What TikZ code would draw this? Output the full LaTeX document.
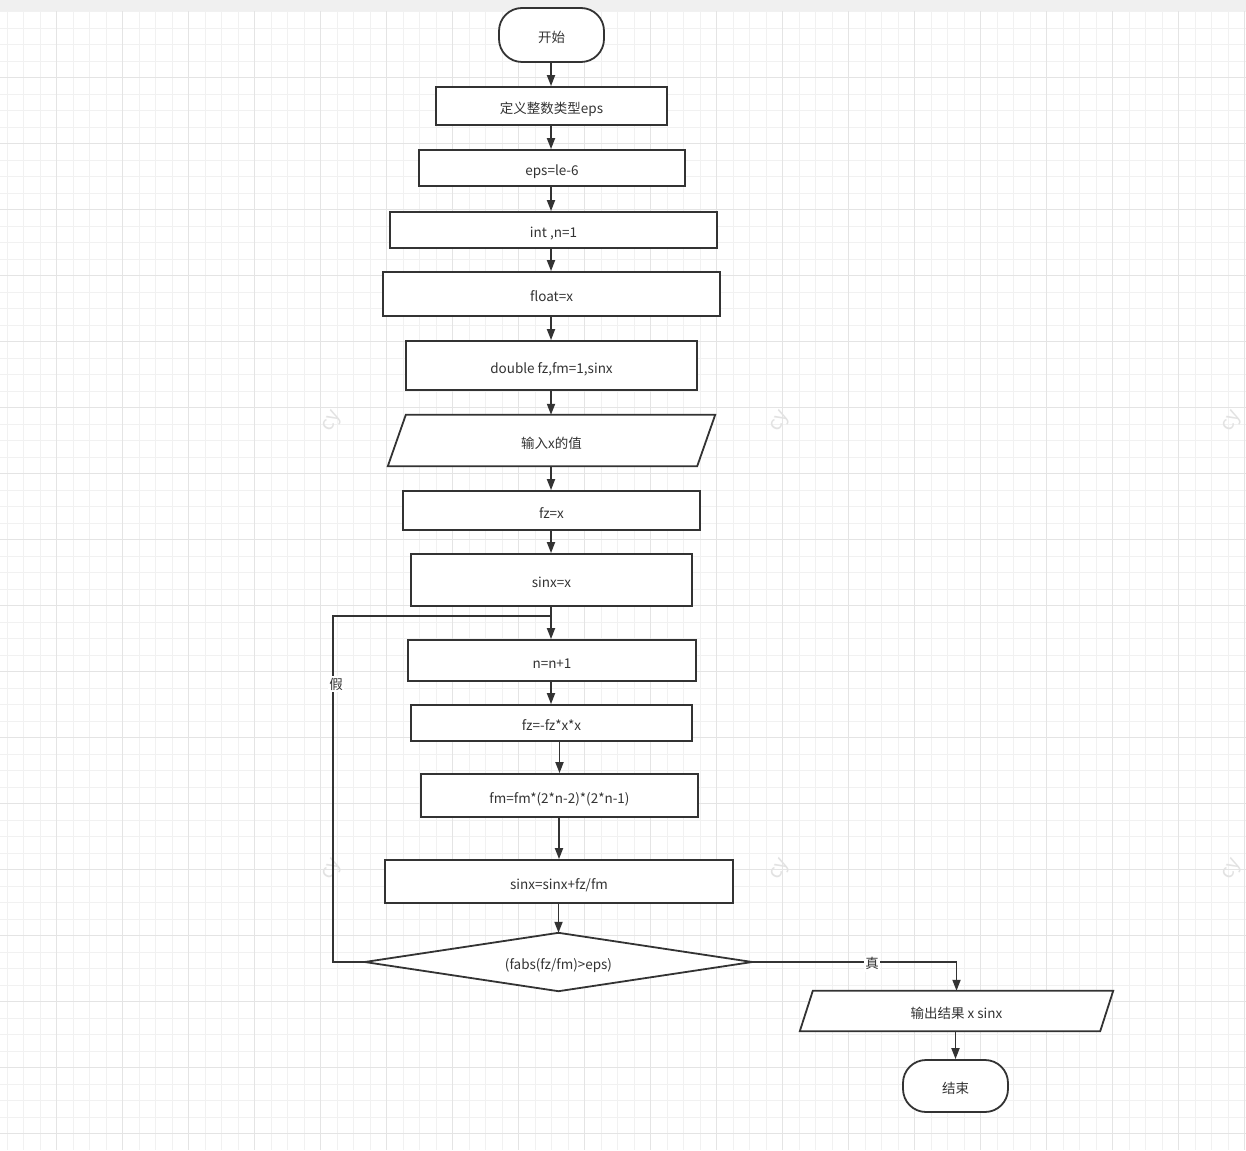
\documentclass[tikz,border=0pt]{standalone}
\usepackage{fontspec}
\setmainfont{Noto Sans CJK SC}
\usetikzlibrary{arrows.meta,calc}
\definecolor{ink}{HTML}{333333}
\definecolor{gmin}{HTML}{F1F1F1}
\definecolor{gmaj}{HTML}{E4E4E4}
\definecolor{band}{HTML}{F0F0F0}
\definecolor{wm}{HTML}{E2E2E2}
\begin{document}
\begin{tikzpicture}[x=1pt,y=-1pt,
  font=\fontsize{13.5}{16}\selectfont,
  every node/.style={text=ink},
  txt/.style={text height=15pt,text depth=0pt},
  box/.style={draw=ink,line width=1.8pt,fill=white,inner sep=0pt,txt},
  term/.style={box,rounded corners=23pt},
  ghost/.style={inner sep=0pt},
  shape line/.style={draw=ink,line width=1.8pt,fill=white},
  ar/.style={draw=ink,line width=1.8pt,-{Triangle[length=11pt,width=8pt]}},
  ln/.style={draw=ink,line width=1.8pt},
  lab/.style={fill=white,inner sep=1pt,text height=12pt,text depth=2pt}]
\useasboundingbox (0,0) rectangle (1246,1150);
\fill[white] (0,0) rectangle (1246,1150);
% grid
\foreach \x in {7.2,23.7,...,1246} \draw[gmin,line width=1pt] (\x,11) -- (\x,1150);
\foreach \y in {11.7,28.2,...,1150} \draw[gmin,line width=1pt] (0,\y) -- (1246,\y);
\foreach \x in {56.7,122.7,...,1246} \draw[gmaj,line width=1pt] (\x,11) -- (\x,1150);
\foreach \y in {77.7,143.7,...,1150} \draw[gmaj,line width=1pt] (0,\y) -- (1246,\y);
\fill[band] (0,0) rectangle (1246,11);
% watermarks
\foreach \p in {(333,422),(781,422),(1233,422),(333,870),(781,870),(1233,870)}
  \node[text=wm,rotate=60,font=\fontsize{20}{20}\selectfont] at \p {cy};

% nodes
\node[term,minimum width=105pt,minimum height=54pt] (st) at (551.5,35) {开始};
\node[box,minimum width=231pt,minimum height=38pt] (b1) at (551.5,106) {定义整数类型eps};
\node[box,minimum width=266pt,minimum height=36pt] (b2) at (552,168) {eps=le-6};
\node[box,minimum width=327pt,minimum height=36pt] (b3) at (553.5,230) {int ,n=1};
\node[box,minimum width=337pt,minimum height=44pt] (b4) at (551.5,294) {float=x};
\node[box,minimum width=291pt,minimum height=49pt] (b5) at (551.5,365.5) {double fz,fm=1,sinx};
\node[ghost,minimum width=327pt,minimum height=51pt] (p1) at (551.5,440.5) {};
\draw[shape line] (p1.south west) -- ($(p1.north west)+(18,0)$) -- (p1.north east) -- ($(p1.south east)+(-18,0)$) -- cycle;
\node[txt] at (p1) {输入x的值};
\node[box,minimum width=297pt,minimum height=39pt] (b6) at (551.5,510.5) {fz=x};
\node[box,minimum width=281pt,minimum height=52pt] (b7) at (551.5,580) {sinx=x};
\node[box,minimum width=288pt,minimum height=41pt] (b8) at (552,660.5) {n=n+1};
\node[box,minimum width=281pt,minimum height=36pt] (b9) at (551.5,723) {fz=-fz*x*x};
\node[box,minimum width=277pt,minimum height=43pt] (b10) at (559.5,795.5) {fm=fm*(2*n-2)*(2*n-1)};
\node[box,minimum width=348pt,minimum height=43pt] (b11) at (559,881.5) {sinx=sinx+fz/fm};
\node[ghost,minimum width=387pt,minimum height=58pt] (d) at (558.5,962) {};
\draw[shape line] (d.west) -- (d.north) -- (d.east) -- (d.south) -- cycle;
\node[txt] at (d) {(fabs(fz/fm)>eps)};
\node[ghost,minimum width=313pt,minimum height=40pt] (p2) at (956.5,1011) {};
\draw[shape line] (p2.south west) -- ($(p2.north west)+(13,0)$) -- (p2.north east) -- ($(p2.south east)+(-13,0)$) -- cycle;
\node[txt] at (p2) {输出结果 x sinx};
\node[term,minimum width=105pt,minimum height=52pt] (en) at (955.5,1086) {结束};

% connectors
\coordinate (j) at (551,616);
\draw[ar] (st.south -| j) -- (b1.north -| j);
\draw[ar] (b1.south -| j) -- (b2.north -| j);
\draw[ar] (b2.south -| j) -- (b3.north -| j);
\draw[ar] (b3.south -| j) -- (b4.north -| j);
\draw[ar] (b4.south -| j) -- (b5.north -| j);
\draw[ar] (b5.south -| j) -- (p1.north -| j);
\draw[ar] (p1.south -| j) -- (b6.north -| j);
\draw[ar] (b6.south -| j) -- (b7.north -| j);
\draw[ar] (b7.south -| j) -- (b8.north -| j);
\draw[ar] (b8.south -| j) -- (b9.north -| j);
\draw[ar] (b10.north |- b9.south) -- (b10.north);
\draw[ar] (b11.north |- b10.south) -- (b11.north);
\draw[ar] (d.north |- b11.south) -- (d.north);
\draw[ln] (d.west) -- ++(-32,0) |- (j);
\node[lab] (jia) at (336,684) {假};
\draw[ar] (d.east) -| (p2.north);
\node[lab] (zhen) at (872,963.5) {真};
\draw[ar] (p2.south -| en.north) -- (en.north);
\end{tikzpicture}
\end{document}
